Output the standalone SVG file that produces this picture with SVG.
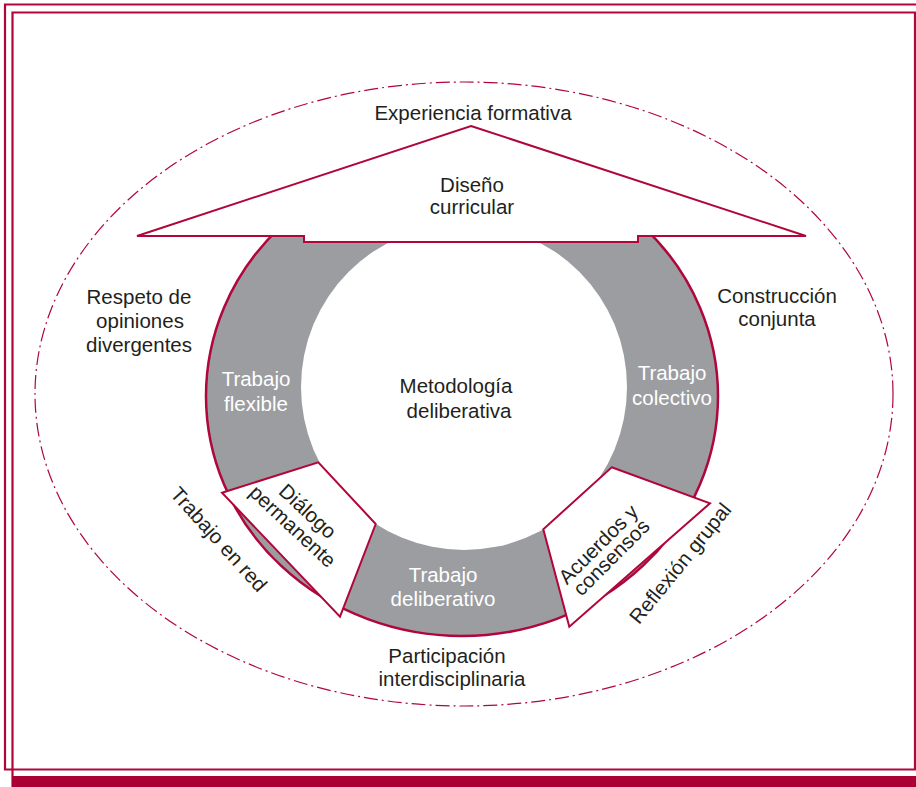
<svg xmlns="http://www.w3.org/2000/svg" width="916" height="787" viewBox="0 0 916 787">
<style>
.t{font-family:"Liberation Sans",Arial,sans-serif;font-size:20.5px;fill:#231f20;text-anchor:middle}
.w{fill:#ffffff}
.frame{fill:none;stroke:#b0063a;stroke-width:2.2}
.shape{fill:#ffffff;stroke:#b0063a;stroke-width:2;stroke-linejoin:miter}
</style>
<g id="frame">
<path class="frame" d="M925,4.5 H5 V769.5 H925"/>
<path class="frame" d="M12.5,787 V12.5 H915 V769.5"/>
<rect x="12" y="776" width="910" height="12" fill="#ab0033"/>
</g>
<g id="boundary">
<ellipse cx="464" cy="394" rx="429" ry="312" fill="none" stroke="#b0063a" stroke-width="1.2" stroke-dasharray="14 4 2 4"/>
</g>
<g id="ring">
<ellipse cx="462" cy="396" rx="256" ry="240" fill="#9c9da1" stroke="#b0063a" stroke-width="2.5"/>
<circle cx="464" cy="387" r="163" fill="#ffffff"/>
<text class="t w" x="256" y="386">Trabajo</text>
<text class="t w" x="256" y="411">flexible</text>
<text class="t w" x="672" y="380">Trabajo</text>
<text class="t w" x="672" y="405">colectivo</text>
<text class="t w" x="443" y="582">Trabajo</text>
<text class="t w" x="443" y="606">deliberativo</text>
</g>
<g id="center">
<text class="t" x="456" y="393">Metodología</text>
<text class="t" x="459" y="418">deliberativa</text>
</g>
<g id="dialogo">
<polygon class="shape" points="222,492.7 318.3,462.3 375.7,524 340,616.7"/>
<text class="t" transform="translate(307,512) rotate(43)" y="6">Diálogo</text>
<text class="t" transform="translate(292,527) rotate(43)" y="6">permanente</text>
</g>
<g id="acuerdos">
<polygon class="shape" points="611.7,467.3 710,503.3 569.3,626.7 543.3,529.3"/>
<text class="t" transform="translate(599,545) rotate(-45)" y="6">Acuerdos y</text>
<text class="t" transform="translate(612,558) rotate(-45)" y="6">consensos</text>
</g>
<g id="diseno">
<polygon class="shape" stroke-width="1.6" points="471,126 806,236 638,236 638,242 304,242 304,236 137,236"/>
<text class="t" x="472" y="192">Diseño</text>
<text class="t" x="472" y="214">curricular</text>
</g>
<g id="labels">
<text class="t" x="473" y="120">Experiencia formativa</text>
<text class="t" x="139" y="304">Respeto de</text>
<text class="t" x="140" y="328">opiniones</text>
<text class="t" x="139" y="352">divergentes</text>
<text class="t" x="777" y="303">Construcción</text>
<text class="t" x="777" y="326">conjunta</text>
<text class="t" x="447" y="663">Participación</text>
<text class="t" x="452" y="686">interdisciplinaria</text>
<text class="t" transform="translate(218,540) rotate(48)" y="6">Trabajo en red</text>
<text class="t" transform="translate(681,564) rotate(-51)" y="6">Reflexión grupal</text>
</g>
</svg>
